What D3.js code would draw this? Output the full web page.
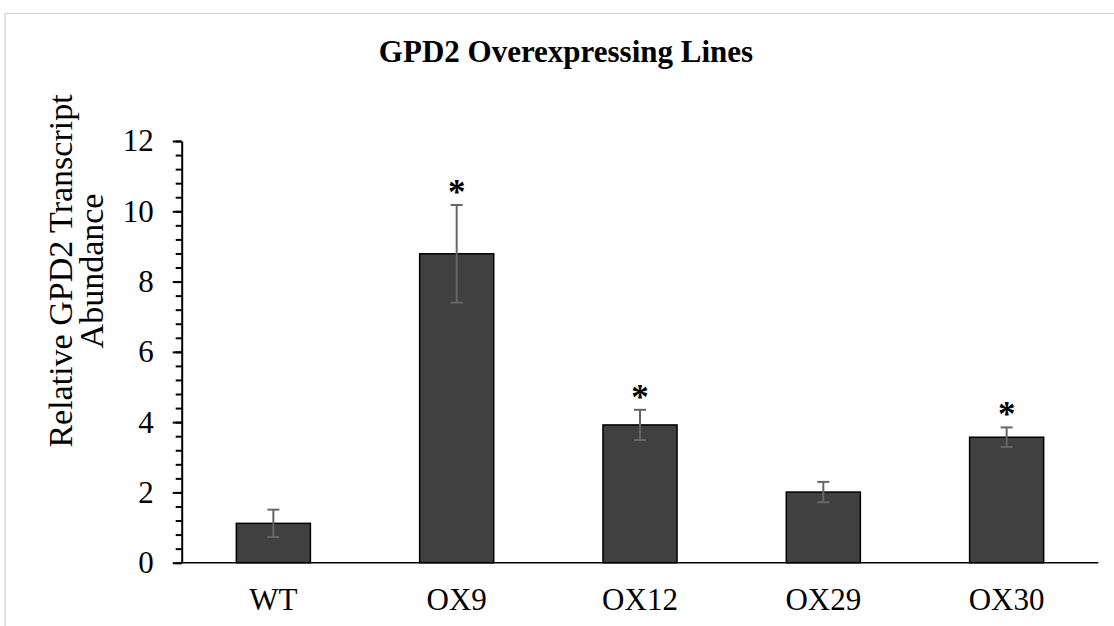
<!DOCTYPE html>
<html>
<head>
<meta charset="utf-8">
<script src="https://cdn.jsdelivr.net/npm/d3@7"></script>
<style>
  html, body { margin: 0; padding: 0; background: #fff; }
  svg { display: block; }
  text { font-family: "Times New Roman", "Liberation Serif", "DejaVu Serif", serif; fill: #000; }
</style>
</head>
<body>
<svg id="chart" width="1114" height="626"></svg>
<script>
// Relative transcript abundance per line (mean and error)
const categories = ["WT", "OX9", "OX12", "OX29", "OX30"];
const values     = [1.12, 8.79, 3.92, 2.01, 3.57];
const errors     = [0.39, 1.39, 0.43, 0.29, 0.28];
const significant = [false, true, true, false, true];
const yTicks     = [0, 2, 4, 6, 8, 10, 12];
const yMinorStep = 0.4;

const titleText = "GPD2 Overexpressing Lines";
const yLabelLines = ["Relative GPD2 Transcript", "Abundance"];

const W = 1114, H = 626;
const plot = { left: 181.7, right: 1098.3, top: 141, bottom: 562.7 };

const svg = d3.select("#chart");

// chart area frame
svg.append("rect")
  .attr("x", 5).attr("y", 13.5)
  .attr("width", W + 20).attr("height", H + 20)
  .attr("fill", "#fff")
  .attr("stroke", "#d9d9d9")
  .attr("stroke-width", 1.5);

const x = d3.scaleBand()
  .domain(categories)
  .range([plot.left, plot.right])
  .paddingInner(0.596)
  .paddingOuter(0.298);

const y = d3.scaleLinear()
  .domain([0, 12])
  .range([plot.bottom, plot.top]);

// title
svg.append("text")
  .attr("x", 566).attr("y", 61.7)
  .attr("text-anchor", "middle")
  .attr("font-size", 31)
  .attr("font-weight", "bold")
  .text(titleText);

// y-axis title (two lines, rotated)
const yl = svg.append("text")
  .attr("transform", "translate(0,271) rotate(-90)")
  .attr("text-anchor", "middle")
  .attr("font-size", 34);
yl.append("tspan").attr("x", 0).attr("y", 72).text(yLabelLines[0]);
yl.append("tspan").attr("x", 0).attr("y", 103).text(yLabelLines[1]);

// bars
const g = svg.append("g");
g.selectAll("rect.bar")
  .data(categories)
  .join("rect")
  .attr("class", "bar")
  .attr("x", d => x(d))
  .attr("width", x.bandwidth())
  .attr("y", (d, i) => y(values[i]))
  .attr("height", (d, i) => y(0) - y(values[i]))
  .attr("fill", "#404040")
  .attr("stroke", "#000")
  .attr("stroke-width", 1.5);

// error bars
const capHalf = 6;
const eb = g.selectAll("g.err")
  .data(categories)
  .join("g")
  .attr("class", "err")
  .attr("stroke", "#666666")
  .attr("stroke-width", 2);
eb.append("line")
  .attr("x1", d => x(d) + x.bandwidth() / 2)
  .attr("x2", d => x(d) + x.bandwidth() / 2)
  .attr("y1", (d, i) => y(values[i] + errors[i]))
  .attr("y2", (d, i) => y(values[i] - errors[i]));
eb.append("line")
  .attr("x1", d => x(d) + x.bandwidth() / 2 - capHalf)
  .attr("x2", d => x(d) + x.bandwidth() / 2 + capHalf)
  .attr("y1", (d, i) => y(values[i] + errors[i]))
  .attr("y2", (d, i) => y(values[i] + errors[i]));
eb.append("line")
  .attr("x1", d => x(d) + x.bandwidth() / 2 - capHalf)
  .attr("x2", d => x(d) + x.bandwidth() / 2 + capHalf)
  .attr("y1", (d, i) => y(values[i] - errors[i]))
  .attr("y2", (d, i) => y(values[i] - errors[i]));

// significance markers above the error bars
g.selectAll("text.star")
  .data(categories.filter((d, i) => significant[i]))
  .join("text")
  .attr("class", "star")
  .attr("x", d => x(d) + x.bandwidth() / 2)
  .attr("y", d => { const i = categories.indexOf(d); return y(values[i] + errors[i]) - 1; })
  .attr("text-anchor", "middle")
  .attr("font-size", 35)
  .attr("font-weight", "bold")
  .text("*");

// y axis: minor ticks
svg.append("g")
  .attr("transform", `translate(${plot.left},0)`)
  .call(d3.axisLeft(y).tickValues(d3.range(0, 12 + 1e-9, yMinorStep)).tickSize(6).tickFormat(""))
  .call(s => s.select(".domain").remove())
  .selectAll("line").attr("stroke", "#000").attr("stroke-width", 2);

// y axis: major ticks and labels
const ya = svg.append("g")
  .attr("transform", `translate(${plot.left},0)`)
  .call(d3.axisLeft(y).tickValues(yTicks).tickSize(9).tickPadding(19).tickSizeOuter(0));
ya.select(".domain").attr("stroke", "#000").attr("stroke-width", 2);
ya.selectAll("line").attr("stroke", "#000").attr("stroke-width", 2);
ya.selectAll("text").attr("font-size", 31).attr("font-family", '"Times New Roman", "Liberation Serif", serif');

// x axis line and labels
svg.append("line")
  .attr("x1", plot.left).attr("x2", plot.right)
  .attr("y1", y(0)).attr("y2", y(0))
  .attr("stroke", "#000").attr("stroke-width", 1.5);

svg.selectAll("text.xlab")
  .data(categories)
  .join("text")
  .attr("class", "xlab")
  .attr("x", d => x(d) + x.bandwidth() / 2)
  .attr("y", 610)
  .attr("text-anchor", "middle")
  .attr("font-size", 31)
  .text(d => d);
</script>
</body>
</html>
